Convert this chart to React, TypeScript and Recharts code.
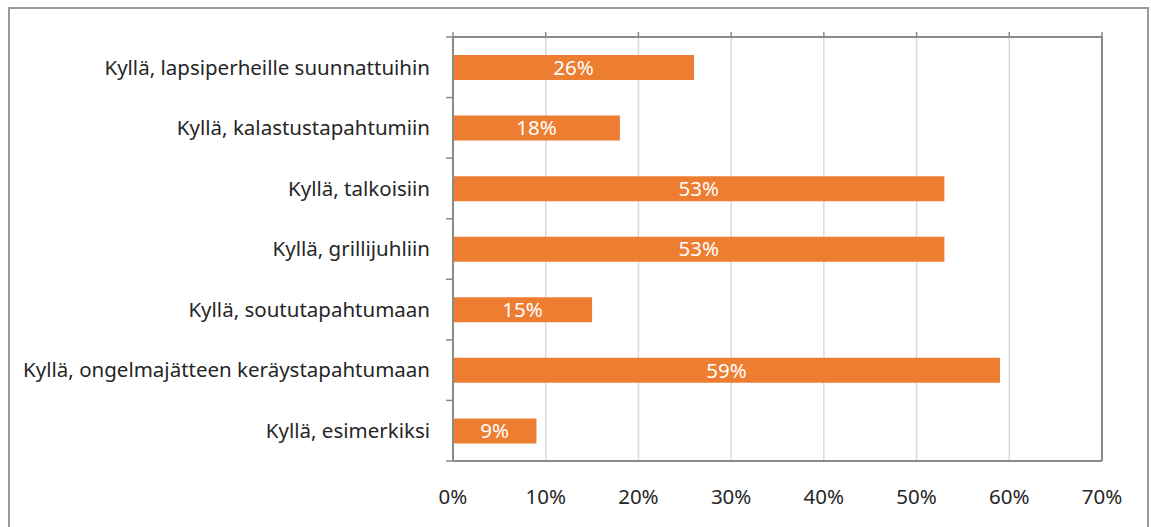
import { BarChart, Bar, XAxis, YAxis, CartesianGrid, ReferenceLine, LabelList } from 'recharts';

const CATEGORIES = [
  'Kyllä, lapsiperheille suunnattuihin',
  'Kyllä, kalastustapahtumiin',
  'Kyllä, talkoisiin',
  'Kyllä, grillijuhliin',
  'Kyllä, soututapahtumaan',
  'Kyllä, ongelmajätteen keräystapahtumaan',
  'Kyllä, esimerkiksi',
];
const VALUES = [26, 18, 53, 53, 15, 59, 9];
const X_TICKS = [0, 10, 20, 30, 40, 50, 60, 70];

const FONT = '"Noto Sans", sans-serif';
const AXIS = '#8a8a8a';
const TEXT = '#262626';

const W = 1151;
const H = 527;
const M = { top: 37, right: 49, left: 0, bottom: 0 };
const Y_AXIS_W = 453;
const X_AXIS_H = 66;
const PLOT_TOP = M.top;
const PLOT_H = H - M.top - X_AXIS_H;
const BAND = PLOT_H / CATEGORIES.length;

const data = CATEGORIES.map((name, i) => ({ name, value: VALUES[i] }));

// bottom labels, plus the little marks sticking up above the plot frame
const XTick = (props: any) => {
  const { x, y, payload } = props;
  return (
    <g>
      <line x1={x} x2={x} y1={PLOT_TOP} y2={PLOT_TOP - 5} stroke={AXIS} strokeWidth={1.5} />
      <text x={x} y={y} dy="0.71em" textAnchor="middle" fill={TEXT} fontSize={20.5} fontFamily={FONT}>
        {`${payload.value}%`}
      </text>
    </g>
  );
};

// category labels, plus marks on the band boundaries
const YTick = (props: any) => {
  const { x, y, payload, index } = props;
  const axisX = Y_AXIS_W;
  const last = index === CATEGORIES.length - 1;
  return (
    <g>
      <line x1={axisX} x2={axisX - 7} y1={y - BAND / 2} y2={y - BAND / 2} stroke={AXIS} strokeWidth={1.5} />
      {last && <line x1={axisX} x2={axisX - 7} y1={y + BAND / 2} y2={y + BAND / 2} stroke={AXIS} strokeWidth={1.5} />}
      <text x={x} y={y} dy="0.355em" textAnchor="end" fill={TEXT} fontSize={20.5} fontFamily={FONT}>
        {payload.value}
      </text>
    </g>
  );
};

export default function App() {
  return (
    <div style={{ position: 'absolute', left: 0, top: 0, width: W, height: H, background: '#fff', overflow: 'hidden', fontFamily: FONT }}>
      <div style={{ position: 'absolute', left: 8, top: 7, width: 1141, height: 540, border: '2px solid #9a9a9a', boxSizing: 'border-box' }} />
      <BarChart
        width={W}
        height={H}
        data={data}
        layout="vertical"
        margin={M}
        barSize={25}
        style={{ position: 'absolute', left: 0, top: 0 }}
      >
        <CartesianGrid horizontal={false} stroke="#d9d9d9" strokeWidth={1.5} />
        <XAxis
          type="number"
          domain={[0, 70]}
          ticks={X_TICKS}
          axisLine={{ stroke: AXIS, strokeWidth: 2 }}
          tickLine={false}
          tickSize={0}
          tickMargin={28}
          height={X_AXIS_H}
          tick={XTick}
          interval={0}
        />
        <YAxis
          type="category"
          dataKey="name"
          width={Y_AXIS_W}
          axisLine={{ stroke: AXIS, strokeWidth: 2 }}
          tickLine={false}
          tickSize={0}
          tickMargin={23}
          tick={YTick}
          interval={0}
        />
        <ReferenceLine x={70} stroke={AXIS} strokeWidth={2} />
        <Bar dataKey="value" fill="#ED7D31" isAnimationActive={false}>
          <LabelList
            dataKey="value"
            position="center"
            formatter={(v: any) => `${v}%`}
            style={{ fill: '#fff', fontSize: 20.5, fontFamily: FONT }}
          />
        </Bar>
      </BarChart>
      <svg width={W} height={H} style={{ position: 'absolute', left: 0, top: 0, pointerEvents: 'none' }}>
        <line x1={Y_AXIS_W - 1} x2={W - M.right + 1} y1={PLOT_TOP} y2={PLOT_TOP} stroke={AXIS} strokeWidth={2} />
      </svg>
    </div>
  );
}
